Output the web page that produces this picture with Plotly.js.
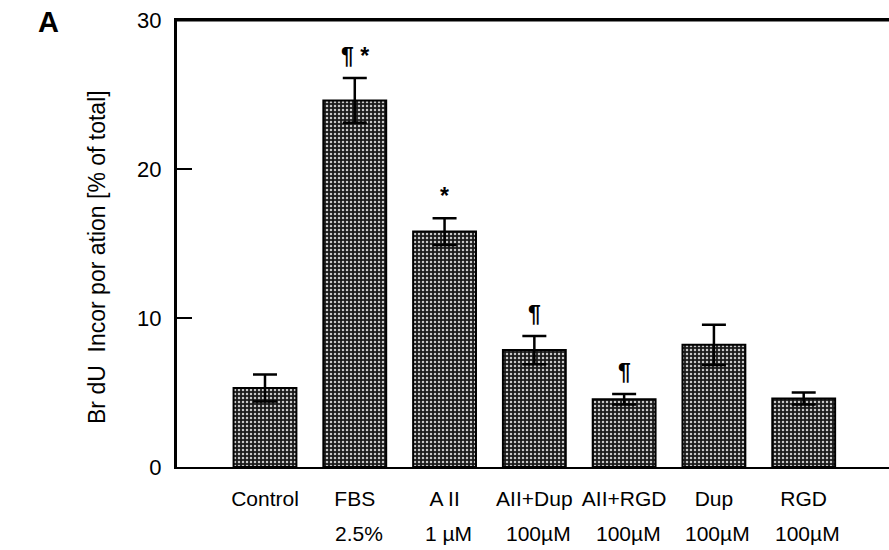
<!DOCTYPE html>
<html>
<head>
<meta charset="utf-8">
<script src="https://cdn.plot.ly/plotly-3.0.1.min.js"></script>
<style>html,body{margin:0;padding:0;background:#fff;}#chart{width:889px;height:550px;}</style>
</head>
<body>
<div id="chart"></div>
<script>
const categories = ["Control", "FBS", "A II", "AII+Dup", "AII+RGD", "Dup", "RGD"];
const tickLine1 = ["Control", "FBS", "A II", "AII+Dup", "AII+RGD", "Dup", "RGD"];
const tickLine2 = ["", "2.5%", "1 \u00b5M", "100\u00b5M", "100\u00b5M", "100\u00b5M", "100\u00b5M"];
const values = [5.3, 24.6, 15.8, 7.85, 4.55, 8.2, 4.6];
const errors = [0.9, 1.5, 0.9, 0.95, 0.35, 1.35, 0.4];
const markers = ["", "\u00b6 *", "*", "\u00b6", "\u00b6", "", ""];
const yTicks = [0, 10, 20, 30];

const font = "Liberation Sans, Arial, sans-serif";
const xs = categories.map((c, i) => i);

const trace = {
  type: "bar",
  x: xs,
  y: values,
  width: 0.7,
  marker: {
    color: "#1a1a1a",
    line: {color: "#000", width: 2},
    pattern: {shape: ".", fgcolor: "#c8c8c8", bgcolor: "#1a1a1a", size: 4, solidity: 0.3, fillmode: "replace"}
  },
  error_y: {type: "data", array: errors, visible: true, color: "#000", thickness: 2.5, width: 12},
  hoverinfo: "none"
};

const annotations = [];
markers.forEach((m, i) => {
  if (m) annotations.push({
    x: xs[i], y: values[i] + errors[i], xref: "x", yref: "y",
    text: "<b>" + m + "</b>", showarrow: false, yanchor: "bottom", yshift: 7,
    font: {family: font, size: 23, color: "#000"}
  });
});
tickLine2.forEach((t, i) => {
  if (t) annotations.push({
    x: xs[i], y: 0, xref: "x", yref: "paper", yanchor: "middle",
    text: t, showarrow: false, yshift: -66, xshift: 4,
    font: {family: font, size: 21, color: "#000"}
  });
});
annotations.push({
  x: (97 - 177) / (889 - 177), y: (467 - 257) / (467 - 20), xref: "paper", yref: "paper",
  xanchor: "center", yanchor: "middle",
  text: "Br dU  Incor por ation [% of total]",
  showarrow: false, textangle: -90, font: {family: font, size: 23, color: "#000"}
});
annotations.push({
  text: "<b>A</b>", x: (36 - 177) / (889 - 177), y: (467 - 22) / (467 - 20), xref: "paper", yref: "paper", showarrow: false,
  xanchor: "left", yanchor: "middle",
  font: {family: font, size: 29, color: "#000"}
});

const layout = {
  width: 889, height: 550,
  margin: {l: 177, r: 0, t: 20, b: 83},
  paper_bgcolor: "#fff", plot_bgcolor: "#fff",
  showlegend: false,
  xaxis: {
    range: [-0.98, 6.95], tickmode: "array", tickvals: xs, ticktext: tickLine1,
    showgrid: false, zeroline: false, showline: true, linecolor: "#000", linewidth: 2,
    mirror: true, ticks: "", ticklabelstandoff: 12,
    tickfont: {family: font, size: 21, color: "#000"}, fixedrange: true
  },
  yaxis: {
    range: [0, 30], tickmode: "array", tickvals: yTicks, ticktext: yTicks.map(String),
    showgrid: false, zeroline: false, showline: true, linecolor: "#000", linewidth: 3,
    ticks: "inside", ticklen: 15, tickwidth: 2, tickcolor: "#000", ticklabelstandoff: 8,
    tickfont: {family: font, size: 22, color: "#000"}, fixedrange: true
  },
  shapes: [{type: "line", xref: "paper", yref: "paper", x0: 0, x1: 1, y0: 1, y1: 1, line: {color: "#000", width: 3}}],
  annotations: annotations
};

Plotly.newPlot("chart", [trace], layout, {staticPlot: true, displayModeBar: false});
</script>
</body>
</html>
